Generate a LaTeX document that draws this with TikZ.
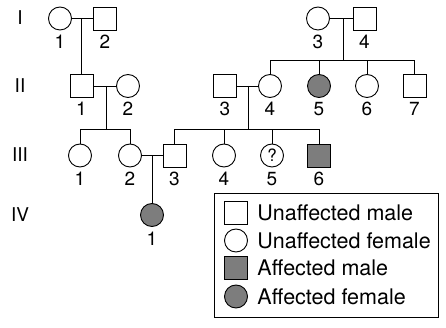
\documentclass[tikz,border=0pt]{standalone}
\usepackage{fontspec}
\setmainfont{TeX Gyre Heros}
\definecolor{affgray}{RGB}{125,125,125}
\begin{document}
\begin{tikzpicture}[x=1pt,y=-1pt,line width=0.9pt,
  male/.style={draw, rectangle, minimum width=23pt, minimum height=23pt, inner sep=0pt},
  female/.style={draw, circle, minimum size=23pt, inner sep=0pt},
  aff/.style={fill=affgray},
  lab/.style={font=\fontsize{19}{19}\selectfont, inner sep=0pt, anchor=base},
  gen/.style={font=\fontsize{19}{19}\selectfont, inner sep=0pt, anchor=base},
  leg/.style={font=\fontsize{21.5}{21.5}\selectfont, inner sep=0pt, anchor=base west}]
\useasboundingbox (0,0) rectangle (446,328);
% generation labels
\node[gen] (gI) at (20,25) {I};
\node[gen] (gII) at (20,93) {II};
\node[gen] (gIII) at (20,162) {III};
\node[gen] (gIV) at (20,222) {IV};
% Generation I
\node[female] (I1) at (60,18.5) {};
\node[male] (I2) at (105,18.5) {};
\node[female] (I3) at (318,18.5) {};
\node[male] (I4) at (364.5,18.5) {};
% Generation II
\node[male] (II1) at (81.5,86) {};
\node[female] (II2) at (128,86) {};
\node[male] (II3) at (225,86) {};
\node[female] (II4) at (270,86) {};
\node[female,aff] (II5) at (319,86) {};
\node[female] (II6) at (367,86) {};
\node[male] (II7) at (414.5,86) {};
% Generation III
\node[female] (III1) at (80,155.5) {};
\node[female] (III2) at (130,155.5) {};
\node[male] (III3) at (174.5,155.5) {};
\node[female] (III4) at (224,155.5) {};
\node[female] (III5) at (272,155.5) {};
\node[font=\fontsize{17}{17}\selectfont, inner sep=0pt] (q) at (272,155.5) {?};
\node[male,aff] (III6) at (319,155.5) {};
% Generation IV
\node[female,aff] (IV1) at (152,215) {};
% number labels
\foreach \n/\t in {I1/1,I2/2,I3/3,I4/4,II1/1,II2/2,II3/3,II4/4,II5/5,II6/6,II7/7,III1/1,III2/2,III3/3,III4/4,III5/5,III6/6,IV1/1}
  \node[lab] (l\n) at ([yshift=-30pt]\n.center) {\t};
% couple coordinates
\coordinate (m1) at (II1.north |- I1.east);
\coordinate (m2) at (343,18.5);
\coordinate (m3) at (106,86);
\coordinate (m4) at (248,86);
\coordinate (m5) at (IV1.north |- III2.east);
\coordinate (s2) at (343,60);
\coordinate (s3) at (106,129);
\coordinate (s4) at (248,129);
% mating lines
\draw (I1.east) -- (I2.west);
\draw (I3.east) -- (I4.west);
\draw (II1.east) -- (II2.west);
\draw (II3.east) -- (II4.west);
\draw (III2.east) -- (III3.west);
% descent I1xI2 -> II1
\draw (m1) -- (II1.north);
% descent I3xI4 -> sibship
\draw (m2) -- (s2);
\draw (II4.north) |- (II7.north |- s2) -- (II7.north);
\draw (II5.north) -- (II5.north |- s2);
\draw (II6.north) -- (II6.north |- s2);
% descent II1xII2
\draw (m3) -- (s3);
\draw (III1.north) |- (III2.north |- s3) -- (III2.north);
% descent II3xII4
\draw (m4) -- (s4);
\draw (III3.north) |- (III6.north |- s4) -- (III6.north);
\draw (III4.north) -- (III4.north |- s4);
\draw (III5.north) -- (III5.north |- s4);
% descent III2xIII3
\draw (m5) -- (IV1.north);
% legend
\node[draw, rectangle, minimum width=224pt, minimum height=124pt, inner sep=0pt, anchor=north west] (legbox) at (214,193) {};
\node[male] (k1) at (236,213) {};
\node[female] (k2) at (236,240.5) {};
\node[male,aff] (k3) at (236,268) {};
\node[female,aff] (k4) at (236,296.5) {};
\node[leg] (t1) at (257,220.5) {Unaffected male};
\node[leg] (t2) at (257,248) {Unaffected female};
\node[leg] (t3) at (257,275.5) {Affected male};
\node[leg] (t4) at (257,304) {Affected female};
\end{tikzpicture}
\end{document}
